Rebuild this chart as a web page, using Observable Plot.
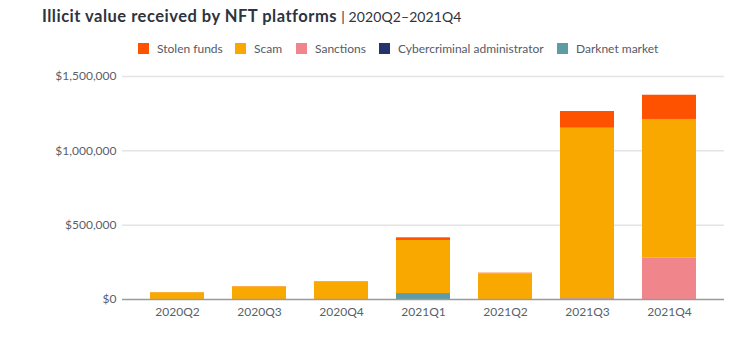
<!DOCTYPE html>
<html>
<head>
<meta charset="utf-8">
<script src="https://cdn.jsdelivr.net/npm/d3@7"></script>
<script src="https://cdn.jsdelivr.net/npm/@observablehq/plot@0.6"></script>
<style>
  html, body { margin: 0; padding: 0; background: #fff; }
  body { width: 745px; height: 354px; position: relative; overflow: hidden; font-family: Lato, "Open Sans", sans-serif; }
  #title { position: absolute; left: 42px; top: 6px; font-size: 16.5px; color: #2e3340; white-space: nowrap; }
  #title b { font-weight: 700; letter-spacing: 0.5px; }
  #title span { font-size: 14px; font-weight: 400; letter-spacing: 0.1px; }
  #legend { position: absolute; left: 0; top: 41px; width: 745px; height: 16px; font-size: 12px; color: #555a66; white-space: nowrap; }
  #legend .sw { position: absolute; top: 2px; width: 11px; height: 11px; }
  #legend .lab { position: absolute; top: 0; }
  #chart { position: absolute; left: 0; top: 62px; }
</style>
</head>
<body>
<div id="title"><b>Illicit value received by NFT platforms</b> <span>| 2020Q2–2021Q4</span></div>
<div id="legend"></div>
<div id="chart"></div>
<script>
const quarters = ["2020Q2", "2020Q3", "2020Q4", "2021Q1", "2021Q2", "2021Q3", "2021Q4"];
const categories = ["Stolen funds", "Scam", "Sanctions", "Cybercriminal administrator", "Darknet market"];
const colors = ["#ff5200", "#f9a800", "#f0868b", "#24336e", "#5e9ca5"];
const stolenFunds = [2000, 3000, 3000, 18000, 4000, 113000, 163000];
const scam = [45000, 84000, 118000, 357000, 173000, 1148000, 931000];
const sanctions = [0, 0, 0, 0, 0, 2000, 280000];
const cyberAdmin = [0, 0, 0, 0, 0, 1500, 0];
const darknet = [0, 0, 0, 40000, 0, 0, 0];
const yTicks = [0, 500000, 1000000, 1500000];

const series = [stolenFunds, scam, sanctions, cyberAdmin, darknet];
const data = [];
categories.forEach((c, i) => quarters.forEach((q, j) => data.push({quarter: q, category: c, value: series[i][j]})));

// legend (item left positions in px)
const legendX = [138, 235, 296, 379, 557];
const legend = document.getElementById("legend");
categories.forEach((c, i) => {
  const sw = document.createElement("span");
  sw.className = "sw";
  sw.style.left = legendX[i] + "px";
  sw.style.background = colors[i];
  legend.appendChild(sw);
  const lab = document.createElement("span");
  lab.className = "lab";
  lab.style.left = (legendX[i] + 19) + "px";
  lab.textContent = c;
  legend.appendChild(lab);
});

const stackOrder = ["Darknet market", "Cybercriminal administrator", "Sanctions", "Scam", "Stolen funds"];

const chart = Plot.plot({
  width: 745,
  height: 292,
  marginLeft: 122,
  marginRight: 21,
  marginTop: 14,
  marginBottom: 55,
  style: { fontFamily: "Lato, 'Open Sans', sans-serif", fontSize: "12px", color: "#5a5f6b", background: "#fff" },
  x: { domain: quarters, padding: 0.34, label: null, tickSize: 0, tickPadding: 8 },
  y: { domain: [0, 1500000], ticks: yTicks, label: null, tickSize: 0, tickPadding: 6, tickFormat: d => "$" + d3.format(",")(d) },
  color: { domain: categories, range: colors },
  marks: [
    Plot.gridY(yTicks.filter(d => d > 0), { stroke: "#e4e4e4", strokeOpacity: 1, strokeWidth: 1.5 }),
    Plot.barY(data, { x: "quarter", y: "value", fill: "category", order: stackOrder }),
    Plot.ruleY([0], { stroke: "#9a9a9a", strokeWidth: 1.5 })
  ]
});
document.getElementById("chart").appendChild(chart);
</script>
</body>
</html>
